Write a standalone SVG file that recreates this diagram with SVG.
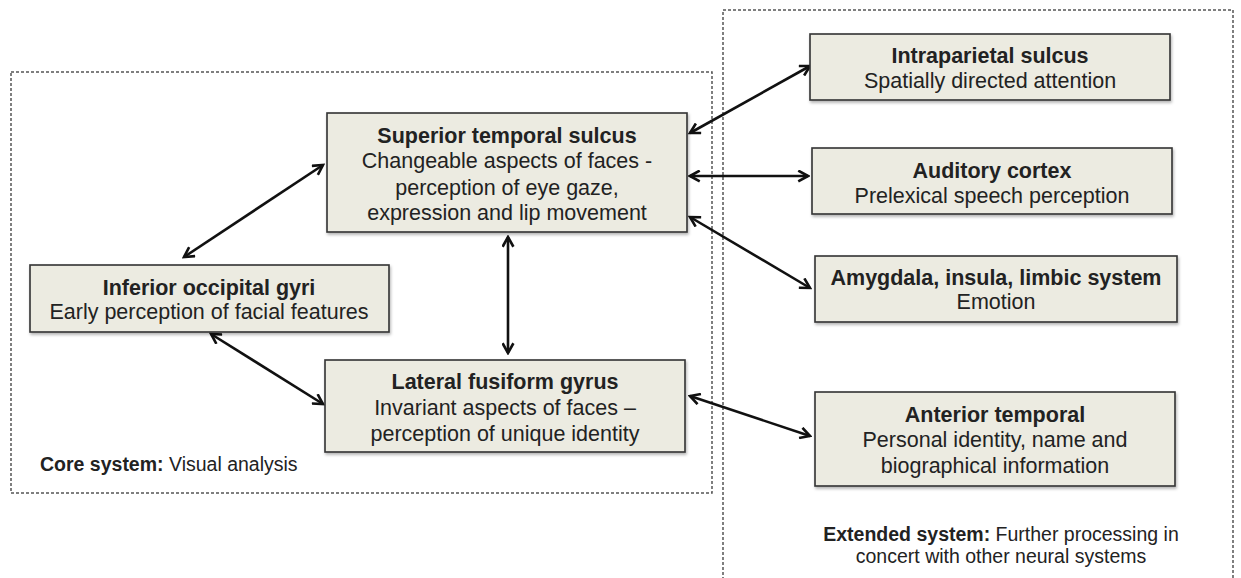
<svg xmlns="http://www.w3.org/2000/svg" width="1241" height="578" viewBox="0 0 1241 578">
<defs>
<marker id="ah" viewBox="0 0 12 12" refX="10" refY="6" markerWidth="13" markerHeight="13" markerUnits="userSpaceOnUse" orient="auto-start-reverse">
<path d="M1,1 L10,6 L1,11" fill="none" stroke="#111" stroke-width="2.4"/>
</marker>
<filter id="sh" x="-5%" y="-5%" width="110%" height="115%">
<feDropShadow dx="1" dy="2" stdDeviation="1.5" flood-color="#000" flood-opacity="0.3"/>
</filter>
</defs>
<style>
.grp{fill:none;stroke:#555;stroke-width:1.5;stroke-dasharray:3,2}
.box{fill:#ecebe1;stroke:#333;stroke-width:1.6;filter:url(#sh)}
.t{font-family:"Liberation Sans",Arial,sans-serif;font-size:21.5px;fill:#222;text-anchor:middle}
.b{font-weight:bold}
.c{stroke:#111;stroke-width:2.6;fill:none;marker-start:url(#ah);marker-end:url(#ah)}
.lab{font-family:"Liberation Sans",Arial,sans-serif;font-size:19.5px;fill:#222}
</style>
<rect width="1241" height="578" fill="#fff"/>
<rect class="grp" x="11" y="72" width="701" height="421"/>
<rect class="grp" x="723" y="10" width="510" height="580"/>
<text class="lab" x="40" y="471"><tspan font-weight="bold">Core system:</tspan> Visual analysis</text>
<text class="lab" x="1001" y="541" text-anchor="middle"><tspan font-weight="bold">Extended system:</tspan> Further processing in</text>
<text class="lab" x="1001" y="563" text-anchor="middle">concert with other neural systems</text>
<g id="connectors">
<line class="c" x1="184" y1="257" x2="323" y2="165"/>
<line class="c" x1="211" y1="334" x2="323" y2="404"/>
<line class="c" x1="508" y1="237" x2="508" y2="353"/>
<line class="c" x1="690" y1="133" x2="810" y2="66"/>
<line class="c" x1="690" y1="176" x2="808" y2="176"/>
<line class="c" x1="690" y1="217" x2="810" y2="288"/>
<line class="c" x1="690" y1="396" x2="810" y2="436"/>
</g>
<g id="sts">
<rect class="box" x="327" y="113" width="360" height="119"/>
<text class="t b" x="507" y="143">Superior temporal sulcus</text>
<text class="t" x="507" y="168">Changeable aspects of faces -</text>
<text class="t" x="507" y="195">perception of eye gaze,</text>
<text class="t" x="507" y="220">expression and lip movement</text>
</g>
<g id="iog">
<rect class="box" x="30" y="265" width="359" height="67"/>
<text class="t b" x="209" y="295">Inferior occipital gyri</text>
<text class="t" x="209" y="319">Early perception of facial features</text>
</g>
<g id="lfg">
<rect class="box" x="325" y="360" width="360" height="92"/>
<text class="t b" x="505" y="389">Lateral fusiform gyrus</text>
<text class="t" x="505" y="415">Invariant aspects of faces –</text>
<text class="t" x="505" y="441">perception of unique identity</text>
</g>
<g id="ips">
<rect class="box" x="810" y="34" width="360" height="66"/>
<text class="t b" x="990" y="63">Intraparietal sulcus</text>
<text class="t" x="990" y="88">Spatially directed attention</text>
</g>
<g id="aud">
<rect class="box" x="812" y="148" width="360" height="66"/>
<text class="t b" x="992" y="178">Auditory cortex</text>
<text class="t" x="992" y="203">Prelexical speech perception</text>
</g>
<g id="amy">
<rect class="box" x="815" y="256" width="362" height="66"/>
<text class="t b" x="996" y="285">Amygdala, insula, limbic system</text>
<text class="t" x="996" y="309">Emotion</text>
</g>
<g id="ant">
<rect class="box" x="815" y="392" width="360" height="94"/>
<text class="t b" x="995" y="422">Anterior temporal</text>
<text class="t" x="995" y="447">Personal identity, name and</text>
<text class="t" x="995" y="473">biographical information</text>
</g>
</svg>
